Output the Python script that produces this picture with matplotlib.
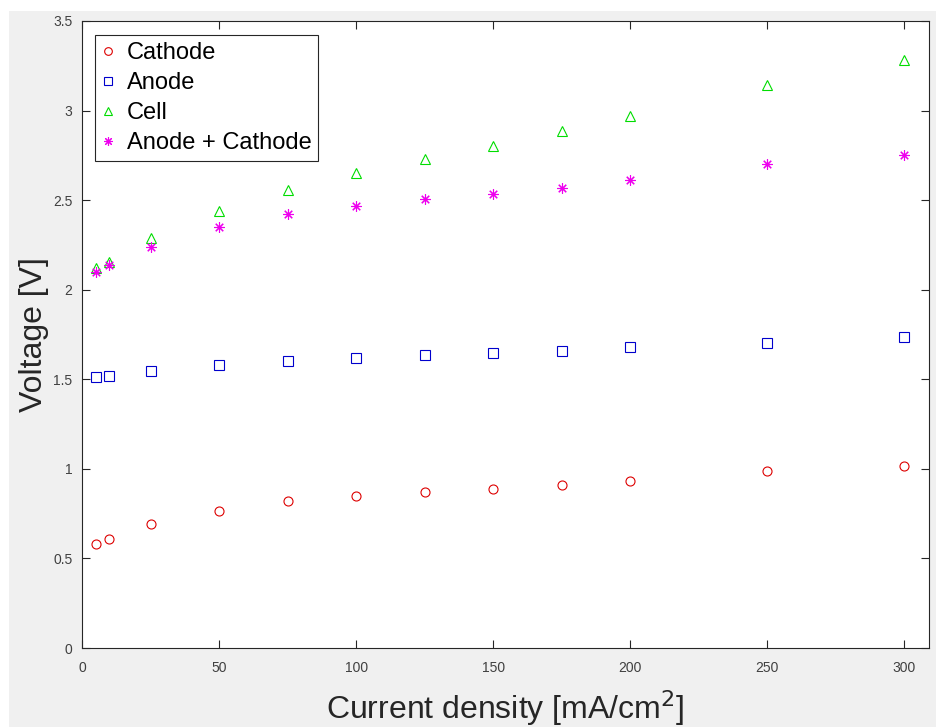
import matplotlib as mpl
import matplotlib.pyplot as plt
from matplotlib.patches import Rectangle

mpl.rcParams.update({
    "font.family": ["Liberation Sans", "DejaVu Sans"],
    "axes.edgecolor": "#262626",
    "xtick.color": "#262626",
    "ytick.color": "#262626",
    "xtick.labelcolor": "#404040",
    "ytick.labelcolor": "#404040",
})

# ---------- data ----------
current = [5, 10, 25, 50, 75, 100, 125, 150, 175, 200, 250, 300]
cathode = [0.58, 0.61, 0.69, 0.765, 0.82, 0.85, 0.87, 0.89, 0.91, 0.93, 0.99, 1.015]
anode = [1.51, 1.52, 1.545, 1.58, 1.60, 1.62, 1.635, 1.645, 1.66, 1.68, 1.70, 1.735]
cell = [2.12, 2.155, 2.29, 2.44, 2.555, 2.65, 2.73, 2.805, 2.885, 2.97, 3.14, 3.285]
anode_cathode = [2.10, 2.14, 2.24, 2.35, 2.42, 2.47, 2.505, 2.535, 2.57, 2.61, 2.70, 2.75]

xticks = [0, 50, 100, 150, 200, 250, 300]
yticks = [0, 0.5, 1, 1.5, 2, 2.5, 3, 3.5]
ytick_labels = ["0", "0.5", "1", "1.5", "2", "2.5", "3", "3.5"]

fig = plt.figure(figsize=(9.37, 7.27), dpi=100, facecolor="white")
# grey MATLAB figure window (white strip on top/left from the screenshot)
fig.patches.append(Rectangle((9 / 937, 0), 1, (727 - 11) / 727,
                             transform=fig.transFigure, facecolor="#f0f0f0",
                             edgecolor="none", zorder=-10))

ax = fig.add_axes([82 / 937, 79 / 727, (929 - 82) / 937, (648 - 21) / 727])
ax.set_facecolor("white")

mk = dict(linestyle="none", markersize=6.5, markeredgewidth=0.8, markerfacecolor="none")
ax.plot(current, cathode, marker="o", color="#dd0000", label="Cathode", **mk)
ax.plot(current, anode, marker="s", color="#0000cc", label="Anode", **mk)
ax.plot(current, cell, marker="^", color="#00dd00", label="Cell", **mk)
ax.plot(current, anode_cathode, marker=(8, 2, 0), color="#ee00ee",
        label="Anode + Cathode", linestyle="none", markersize=7.5, markeredgewidth=0.8)

ax.set_xlim(0, 309)
ax.set_ylim(0, 3.5)
ax.set_xticks(xticks)
ax.set_yticks(yticks)
ax.set_yticklabels(ytick_labels)
ax.tick_params(direction="in", length=6, width=0.8, labelsize=10,
               top=True, right=True)
ax.tick_params(axis="x", pad=9)
ax.tick_params(axis="y", pad=7)
for sp in ax.spines.values():
    sp.set_linewidth(0.8)

ax.set_xlabel("Current density [mA/cm$^2$]", fontsize=23, color="#262626", labelpad=10)
ax.set_ylabel("Voltage [V]", fontsize=23, color="#262626", labelpad=3)

leg = ax.legend(loc="upper left", bbox_to_anchor=(0.015, 0.978), fontsize=17,
                fancybox=False, framealpha=1, edgecolor="#262626",
                handlelength=0.5, handletextpad=0.55, labelspacing=0.34,
                borderpad=0.3, borderaxespad=0, markerscale=0.85)
leg.get_frame().set_linewidth(0.8)

fig.savefig("out.png", dpi=100, facecolor=fig.get_facecolor())
